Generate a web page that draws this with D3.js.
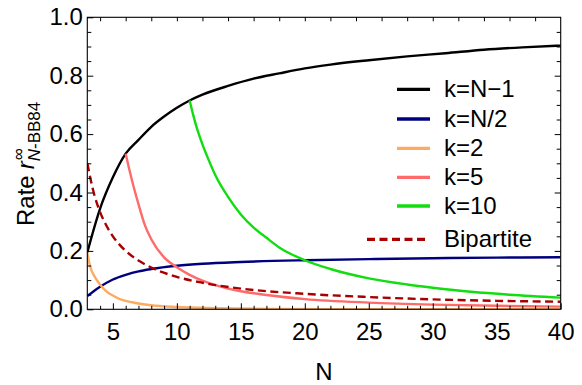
<!DOCTYPE html>
<html>
<head>
<meta charset="utf-8">
<script src="https://cdn.jsdelivr.net/npm/d3@7"></script>
<style>
body{margin:0;background:#fff;}
text{font-family:"Liberation Sans",Arial,sans-serif;fill:#000;}
</style>
</head>
<body>
<div id="chart"></div>
<script>
// values
var nBlack = [3,4,5,6,7,8,9,10,11,12,14,16,18,20,22,25,28,31,34,37,40];
var rBlack = [0.195,0.345,0.452,0.533,0.58,0.625,0.66,0.69,0.715,0.735,0.765,0.79,0.808,0.825,0.838,0.853,0.866,0.877,0.889,0.897,0.903];

var nBlue = [3,3.5,4,5,6,7,8,10,12,15,20,25,30,35,40];
var rBlue = [0.045,0.062,0.077,0.102,0.118,0.13,0.138,0.149,0.156,0.162,0.168,0.172,0.175,0.177,0.178];

var nOrange = [3,3.2,3.6,4,4.4,5,5.5,6.5,8,10,13,17,22,40];
var rOrange = [0.195,0.15,0.11,0.085,0.065,0.047,0.036,0.024,0.014,0.008,0.004,0.0015,0.0005,0];

var nPink = [6,6.25,6.5,7,7.5,8,9,10,11,12,13,14,15,17,20,25,30,35,40];
var rPink = [0.533,0.485,0.44,0.36,0.288,0.24,0.178,0.144,0.118,0.098,0.083,0.071,0.062,0.049,0.035,0.023,0.016,0.012,0.009];

var nGreen = [11,11.25,11.5,12,12.5,13,14,15,16,17,18,20,22,25,28,30,33,36,40];
var rGreen = [0.715,0.67,0.63,0.565,0.51,0.46,0.385,0.325,0.28,0.245,0.212,0.168,0.138,0.106,0.085,0.074,0.06,0.05,0.04];

var nBip = [3,3.5,4,4.5,5,6,7,8,10,12,15,20,25,30,35,40];
var rBip = [0.5,0.4,0.333,0.286,0.25,0.2,0.167,0.143,0.111,0.091,0.071,0.053,0.042,0.034,0.029,0.026];

var legendLabels = ["k=N\u22121","k=N/2","k=2","k=5","k=10","Bipartite"];
var xTickValues = [5,10,15,20,25,30,35,40];
var yTickValues = [0,0.2,0.4,0.6,0.8,1.0];

var series = [
    {n:nBlack, r:rBlack, color:"#000000", dash:null},
    {n:nBlue, r:rBlue, color:"#00007f", dash:null},
    {n:nOrange, r:rOrange, color:"#fdab63", dash:null},
    {n:nPink, r:rPink, color:"#ff6a6a", dash:null},
    {n:nGreen, r:rGreen, color:"#11dd11", dash:null},
    {n:nBip, r:rBip, color:"#a80000", dash:"8,4.5"}
];

var width = 582, height = 385;
var pLeft = 87.3, pRight = 560.7, pTop = 17.3, pBottom = 309.3;

var svg = d3.select("#chart")
    .append("svg")
    .attr("width",width)
    .attr("height",height);

var xScale = d3.scaleLinear().domain([3,40]).range([pLeft,pRight]);
var yScale = d3.scaleLinear().domain([0,1]).range([pBottom,pTop]);

svg.append("defs").append("clipPath")
    .attr("id","plotclip")
    .append("rect")
    .attr("x",pLeft)
    .attr("y",pTop-2)
    .attr("width",pRight-pLeft)
    .attr("height",pBottom-pTop+2);

var line = d3.line()
    .x(function(d){return xScale(d[0])})
    .y(function(d){return yScale(d[1])})
    .curve(d3.curveMonotoneX);

series.forEach(function(s){
    var pts = s.n.map(function(v,j){return [v,s.r[j]]});
    svg.append("path")
        .datum(pts)
        .attr("clip-path","url(#plotclip)")
        .attr("fill","none")
        .attr("stroke",s.color)
        .attr("stroke-width",2.4)
        .attr("stroke-dasharray",s.dash)
        .attr("d",line);
});

// ticks (inward, Mathematica style)
var xMinor = d3.range(4,40,1).filter(function(d){return d%5!=0});
var yMinor = d3.range(0.05,1,0.05).filter(function(d){return Math.abs(d*5-Math.round(d*5))>1e-6});

svg.append("g")
    .attr("transform","translate(0,"+pBottom+")")
    .call(d3.axisBottom(xScale).tickValues(xTickValues).tickSize(-6).tickPadding(13.5).tickFormat(d3.format("d")))
    .call(function(g){g.select(".domain").remove()})
    .selectAll("text").attr("font-size",24);
svg.append("g")
    .attr("transform","translate(0,"+pBottom+")")
    .call(d3.axisBottom(xScale).tickValues(xMinor).tickSize(-3.5).tickFormat(""))
    .call(function(g){g.select(".domain").remove()});

svg.append("g")
    .attr("transform","translate("+pLeft+",0)")
    .call(d3.axisLeft(yScale).tickValues(yTickValues).tickSize(-6).tickPadding(4.5).tickFormat(d3.format(".1f")))
    .call(function(g){g.select(".domain").remove()})
    .selectAll("text").attr("font-size",24);
svg.append("g")
    .attr("transform","translate("+pLeft+",0)")
    .call(d3.axisLeft(yScale).tickValues(yMinor).tickSize(-4).tickFormat(""))
    .call(function(g){g.select(".domain").remove()});

svg.append("g")
    .attr("transform","translate(0,"+pTop+")")
    .call(d3.axisTop(xScale).tickValues(d3.range(4,40,2)).tickSize(-4).tickFormat(""))
    .call(function(g){g.select(".domain").remove()});

svg.append("g")
    .attr("transform","translate("+pRight+",0)")
    .call(d3.axisRight(yScale).tickValues(yMinor).tickSize(-4).tickFormat(""))
    .call(function(g){g.select(".domain").remove()});
svg.append("g")
    .attr("transform","translate("+pRight+",0)")
    .call(d3.axisRight(yScale).tickValues(yTickValues.slice(1,5)).tickSize(-6).tickFormat(""))
    .call(function(g){g.select(".domain").remove()});

svg.selectAll(".tick line").attr("stroke","#000");

// frame
svg.append("rect")
    .attr("x",pLeft)
    .attr("y",pTop)
    .attr("width",pRight-pLeft)
    .attr("height",pBottom-pTop)
    .attr("fill","none")
    .attr("stroke","#000")
    .attr("stroke-width",1.1);

// axis labels
svg.append("text")
    .attr("x",(pLeft+pRight)/2)
    .attr("y",380)
    .attr("text-anchor","middle")
    .attr("font-size",24)
    .text("N");

var ylab = svg.append("g").attr("transform","translate(34,226) rotate(-90)");
var t1 = ylab.append("text").attr("font-size",24).text("Rate");
var w1 = t1.node().getComputedTextLength() + 6;
var t2 = ylab.append("text").attr("x",w1).attr("font-size",24).attr("font-style","italic").text("r");
var w2 = t2.node().getComputedTextLength();
ylab.append("text").attr("x",w1+w2+1).attr("y",-10).attr("font-size",17).text("\u221e");
var sub = ylab.append("text").attr("x",w1+w2).attr("y",6).attr("font-size",17);
sub.append("tspan").attr("font-style","italic").text("N");
sub.append("tspan").text("-BB84");

// legend
var legendY = [89.3,119,148.3,177.3,206,239.3];
var legend = svg.append("g");
series.forEach(function(s,i){
    legend.append("line")
        .attr("x1",s.dash ? 367 : 397)
        .attr("x2",s.dash ? 427 : 430)
        .attr("y1",legendY[i])
        .attr("y2",legendY[i])
        .attr("stroke",s.color)
        .attr("stroke-width",3.3)
        .attr("stroke-dasharray",s.dash);
    legend.append("text")
        .attr("x",444)
        .attr("y",legendY[i]+8)
        .attr("font-size",24)
        .text(legendLabels[i]);
});
</script>
</body>
</html>
